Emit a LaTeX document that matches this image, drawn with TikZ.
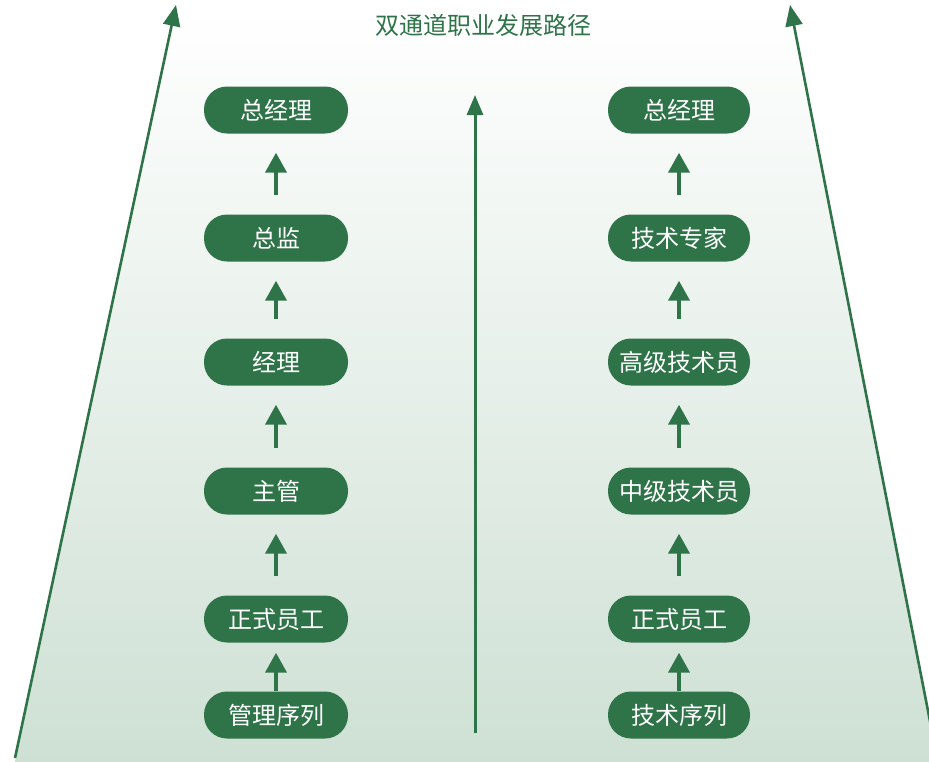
\documentclass[tikz,border=0pt]{standalone}
\usepackage{fontspec}
\setmainfont{Noto Sans CJK SC}
\usetikzlibrary{arrows.meta}
\definecolor{dkgreen}{RGB}{47,115,73}
\definecolor{bggreen}{RGB}{206,224,212}
\tikzset{
  pill/.style={draw=none, fill=dkgreen, text=white, rounded corners=23pt,
    minimum height=47pt, font=\fontsize{24}{28}\selectfont, inner sep=0pt},
  lpill/.style={pill, minimum width=144pt},
  rpill/.style={pill, minimum width=142pt},
  uparrow/.style={draw=dkgreen, line width=4pt,
    -{Triangle[width=21pt,length=20pt]}, shorten >=19pt, shorten <=19pt},
  longarrow/.style={draw=dkgreen, line width=2.6pt,
    -{Triangle[width=17pt,length=21pt]}}
}
\begin{document}
\begin{tikzpicture}[x=1pt,y=-1pt]
\useasboundingbox (0,0) rectangle (929,761);
\begin{scope}
\clip (0,0) rectangle (929,761);
\shade[top color=white, bottom color=bggreen]
  (14.5,764) -- (176,6) -- (790,6) -- (939,764) -- cycle;
\coordinate (lb) at (15,758);
\coordinate (lt) at (176,5);
\coordinate (rb) at (938,762);
\coordinate (rt) at (790,5);
\draw[longarrow] (lb) -- (lt);
\draw[longarrow] (rb) -- (rt);
\end{scope}
\coordinate (mb) at (475,733);
\coordinate (mt) at (475,95);
\draw[draw=dkgreen, line width=3pt, -{Triangle[width=16pt,length=20pt]}] (mb) -- (mt);
\node[text=dkgreen, font=\fontsize{24}{28}\selectfont] (title) at (483,25) {双通道职业发展路径};
% left column
\node[lpill] (l1) at (276,110) {总经理};
\node[lpill] (l2) at (276,238) {总监};
\node[lpill] (l3) at (276,362) {经理};
\node[lpill] (l4) at (276,491) {主管};
\node[lpill] (l5) at (276,619) {正式员工};
\node[lpill] (l6) at (276,715) {管理序列};
% right column
\node[rpill] (r1) at (679,110) {总经理};
\node[rpill] (r2) at (679,238) {技术专家};
\node[rpill] (r3) at (679,362) {高级技术员};
\node[rpill] (r4) at (679,491) {中级技术员};
\node[rpill] (r5) at (679,619) {正式员工};
\node[rpill] (r6) at (679,715) {技术序列};
\foreach \c in {l,r}{
  \draw[uparrow] (\c2.north) -- (\c1.south);
  \draw[uparrow] (\c3.north) -- (\c2.south);
  \draw[uparrow] (\c4.north) -- (\c3.south);
  \draw[uparrow] (\c5.north) -- (\c4.south);
  \draw[uparrow, shorten <=0pt, shorten >=10pt] (\c6.north) -- (\c5.south);
}
\end{tikzpicture}
\end{document}
